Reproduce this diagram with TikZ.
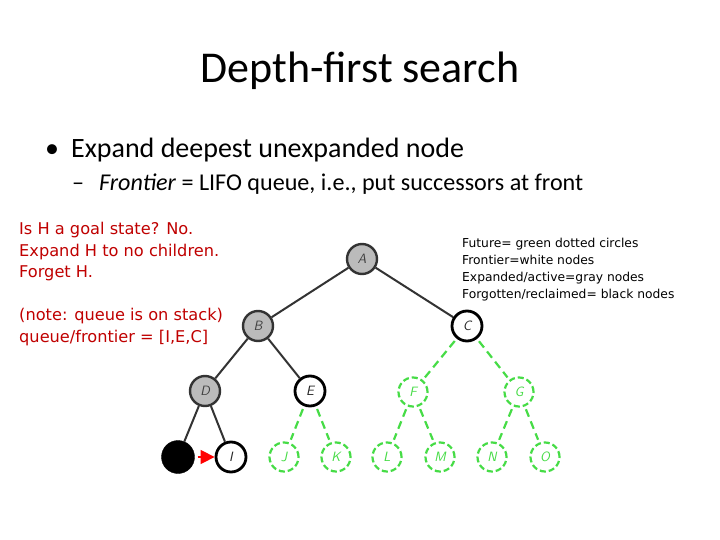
\documentclass[tikz,border=0pt]{standalone}
\usepackage{fontspec}
\setmainfont{Carlito}
\newfontfamily\smallfont{DejaVu Sans}
\usetikzlibrary{arrows.meta}
\definecolor{redtxt}{RGB}{192,0,0}
\definecolor{futgreen}{RGB}{70,220,70}
\tikzset{
  lbl/.style={font=\sffamily\itshape\fontsize{13.5}{13.5}\selectfont},
  gnode/.style={circle,draw=black!80,fill=gray!53,line width=2.4pt,minimum size=30pt,inner sep=0pt,lbl,text=black!75},
  wnode/.style={circle,draw=black,fill=white,line width=2.8pt,minimum size=30pt,inner sep=0pt,lbl,text=black!85},
  fnode/.style={circle,draw=futgreen,fill=white,line width=2.2pt,dash pattern=on 6pt off 3pt,minimum size=29pt,inner sep=0pt,lbl,text=futgreen},
  bnode/.style={circle,fill=black,draw=black,minimum size=33pt,inner sep=0pt},
  tedge/.style={draw=black!80,line width=2pt},
  fedge/.style={draw=futgreen,line width=2.2pt,dash pattern=on 8pt off 5pt,shorten <=3pt,shorten >=3pt},
}
\begin{document}
\begin{tikzpicture}[x=1pt,y=-1pt]
\useasboundingbox[fill=white] (0,0) rectangle (720,540);
% title and bullets
\node[anchor=base,font=\fontsize{44}{44}\selectfont] (title) at (360,83) {Depth-first search};
\node[anchor=base west,font=\fontsize{28}{28}\selectfont,inner sep=0pt] (b1) at (45,158) {\textbullet\hspace{12pt}Expand deepest unexpanded node};
\node[anchor=base west,font=\fontsize{24.1}{24.1}\selectfont,inner sep=0pt] (b2) at (72,191) {--\hspace{15pt}\textit{Frontier} = LIFO queue, i.e., put successors at front};
% left red text
\node[anchor=north west,align=left,text=redtxt,font=\smallfont\fontsize{16.2}{21.5}\selectfont,inner sep=0pt] (note) at (19,222) {Is H a goal state? No.\\Expand H to no children.\\Forget H.\\[21.5pt](note: queue is on stack)\\queue/frontier = [I,E,C]};
% legend
\node[anchor=north west,align=left,font=\smallfont\fontsize{12.3}{17}\selectfont,inner sep=0pt] (legend) at (462,238) {Future= green dotted circles\\Frontier=white nodes\\Expanded/active=gray nodes\\Forgotten/reclaimed= black nodes};
% tree nodes
\node[gnode] (A) at (362,259) {A};
\node[gnode] (B) at (258,326) {B};
\node[wnode] (C) at (467,326) {C};
\node[gnode] (D) at (205,391) {D};
\node[wnode] (E) at (310,391) {E};
\node[fnode] (F) at (413,392) {F};
\node[fnode] (G) at (519,392) {G};
\node[bnode] (H) at (178,457) {};
\node[wnode] (I) at (231,457) {I};
\node[fnode] (J) at (284,457) {J};
\node[fnode] (K) at (336,457) {K};
\node[fnode] (L) at (387,457) {L};
\node[fnode] (M) at (440,457) {M};
\node[fnode] (N) at (492,457) {N};
\node[fnode] (O) at (545,457) {O};
% edges
\draw[tedge] (A) -- (B);
\draw[tedge] (A) -- (C);
\draw[tedge] (B) -- (D);
\draw[tedge] (B) -- (E);
\draw[tedge] (D) -- (H);
\draw[tedge] (D) -- (I);
\draw[fedge] (E) -- (J);
\draw[fedge] (E) -- (K);
\draw[fedge] (C) -- (F);
\draw[fedge] (C) -- (G);
\draw[fedge] (F) -- (L);
\draw[fedge] (F) -- (M);
\draw[fedge] (G) -- (N);
\draw[fedge] (G) -- (O);
\draw[red,line width=1.5pt,-{Triangle[length=14pt,width=14pt]},shorten <=3pt] (H) -- (I);
\end{tikzpicture}
\end{document}
